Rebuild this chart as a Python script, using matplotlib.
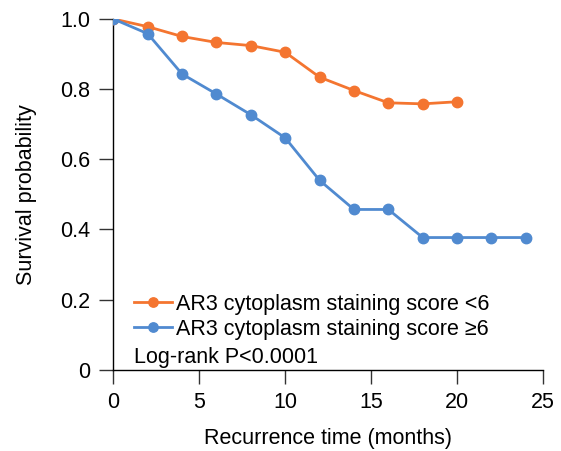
import numpy as np
import matplotlib.pyplot as plt

plt.rcParams['font.family'] = ['Liberation Sans', 'DejaVu Sans']

# Data
t_low = [0, 2, 4, 6, 8, 10, 12, 14, 16, 18, 20]
s_low = [1.0, 0.978, 0.950, 0.933, 0.924, 0.905, 0.834, 0.796, 0.761, 0.758, 0.764]
t_high = [0, 2, 4, 6, 8, 10, 12, 14, 16, 18, 20, 22, 24]
s_high = [1.0, 0.958, 0.843, 0.786, 0.727, 0.661, 0.540, 0.457, 0.457, 0.377, 0.377, 0.377, 0.377]

label_low = "AR3 cytoplasm staining score <6"
label_high = "AR3 cytoplasm staining score \u22656"

orange = '#F47530'
blue = '#508AD0'
fs = 15.5

fig = plt.figure(figsize=(5.61, 4.51), dpi=100)
ax = fig.add_axes([0.202, 0.18, 0.766, 0.778])

ax.plot(t_low, s_low, '-o', color=orange, lw=2, ms=7.5, label=label_low, zorder=3)
ax.plot(t_high, s_high, '-o', color=blue, lw=2, ms=7.5, label=label_high, zorder=3)

ax.set_xlim(0, 25)
ax.set_ylim(0, 1.0)
ax.set_xticks([0, 5, 10, 15, 20, 25])
ax.set_yticks([0, 0.2, 0.4, 0.6, 0.8, 1.0])
ax.set_yticklabels(['0', '0.2', '0.4', '0.6', '0.8', '1.0'])
ax.tick_params(direction='out', length=10, width=1, labelsize=fs, color='#333333')
ax.tick_params(axis='y', pad=6.5)
ax.tick_params(axis='x', pad=6)
for s in ['top', 'right']:
    ax.spines[s].set_visible(False)
for s in ['left', 'bottom']:
    ax.spines[s].set_linewidth(1)

ax.set_xlabel('Recurrence time (months)', fontsize=fs, labelpad=10.5)
ax.set_ylabel('Survival probability', fontsize=fs, labelpad=16.5)

leg = ax.legend(loc='lower left', bbox_to_anchor=(0.048, 0.085), frameon=False,
                fontsize=fs, handlelength=1.75, handletextpad=0.2,
                labelspacing=0.2, borderaxespad=0, borderpad=0, markerscale=0.9)
ax.text(0.048, 0.034, 'Log-rank P<0.0001', transform=ax.transAxes,
        fontsize=fs, va='center')

fig.savefig('out.png', dpi=100)
